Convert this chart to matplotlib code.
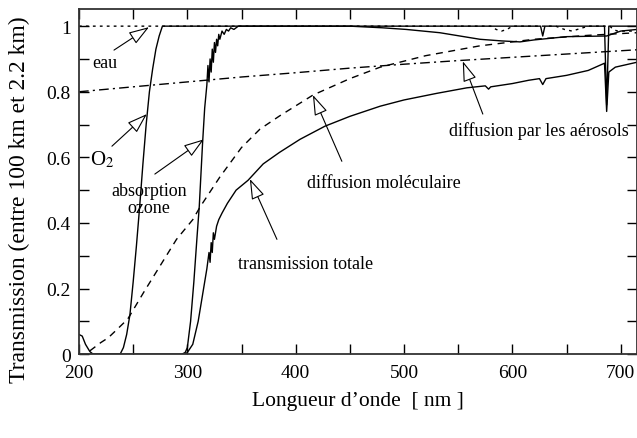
import numpy as np
import matplotlib
matplotlib.use('Agg')
import matplotlib.pyplot as plt
from matplotlib.ticker import MultipleLocator, FuncFormatter

plt.rcParams['font.family'] = ['Liberation Serif', 'DejaVu Serif']
plt.rcParams['mathtext.fontset'] = 'stix'

# absorption O2 (trait plein)
o2_x = [200, 203, 206, 210, 213, 238, 241, 244, 247, 250, 253, 256, 259, 262, 265,
        268, 271, 274, 277, 626, 628, 630, 685, 687, 689, 715]
o2_y = [0.06, 0.055, 0.03, 0.008, 0, 0, 0.02, 0.06, 0.12, 0.22, 0.33, 0.45, 0.58, 0.70, 0.80,
        0.87, 0.93, 0.97, 1.0, 1.0, 0.97, 1.0, 1.0, 0.76, 1.0, 1.0]

# absorption ozone (Huggins + Chappuis)
oz_x = [200, 295, 298, 300, 303, 306, 309, 311, 314, 316, 318, 319, 320, 321, 322, 323,
        324, 325, 326, 327, 328, 329, 330, 332, 334, 336, 338, 340, 343, 347, 450, 480,
        502, 533, 570, 590, 607, 620, 650, 687, 700, 715]
oz_y = [0, 0, 0.005, 0.02, 0.1, 0.22, 0.36, 0.45, 0.64, 0.75, 0.82, 0.88, 0.83, 0.90, 0.86, 0.93,
        0.89, 0.95, 0.92, 0.96, 0.94, 0.975, 0.96, 0.985, 0.975, 0.99, 0.985, 0.995, 0.99, 1.0, 1.0, 0.995,
        0.99, 0.98, 0.96, 0.955, 0.952, 0.958, 0.968, 0.97, 0.985, 0.99]

# transmission totale
tot_x = [298, 300, 305, 310, 314, 318, 320, 321, 322, 323, 324, 325, 327, 329, 332, 337,
         345, 356, 370, 385, 404, 427, 450, 478, 500, 530, 558, 575, 578, 580, 600, 615,
         625, 628, 631, 650, 670, 685, 687, 689, 695, 715]
tot_y = [0, 0.005, 0.03, 0.1, 0.18, 0.26, 0.31, 0.28, 0.34, 0.31, 0.37, 0.35, 0.39, 0.41, 0.43, 0.46,
         0.50, 0.53, 0.58, 0.615, 0.655, 0.695, 0.725, 0.756, 0.775, 0.795, 0.812, 0.818, 0.808, 0.815, 0.825, 0.835,
         0.84, 0.822, 0.84, 0.85, 0.865, 0.887, 0.74, 0.86, 0.875, 0.89]

# diffusion moleculaire (Rayleigh)
mol_x = [210, 220, 227, 235, 245, 260, 275, 290, 305, 312, 330, 350, 367, 385, 416,
         450, 478, 520, 570, 620, 670, 715]
mol_y = [0.01, 0.035, 0.05, 0.075, 0.107, 0.19, 0.27, 0.35, 0.41, 0.45, 0.54, 0.63, 0.686, 0.726, 0.79,
         0.84, 0.875, 0.91, 0.94, 0.96, 0.972, 0.98]

# diffusion par les aerosols
aer_x = [200, 250, 300, 350, 400, 450, 500, 550, 600, 650, 700, 715]
aer_y = [0.80, 0.815, 0.83, 0.845, 0.858, 0.872, 0.884, 0.895, 0.905, 0.915, 0.925, 0.928]

# vapeur d'eau
eau_x = [200, 580, 585, 590, 595, 600, 640, 648, 655, 662, 670, 690, 693, 697, 715]
eau_y = [1.0, 1.0, 0.99, 0.985, 0.99, 1.0, 1.0, 0.99, 0.985, 0.992, 1.0, 1.0, 0.99, 0.985, 0.985]

fig = plt.figure(figsize=(6.37, 4.39), dpi=100)
ax = fig.add_axes([0.124, 0.191, 0.876, 0.786])

lw = 1.0
ax.plot(eau_x, eau_y, color='black', lw=lw, linestyle=(0, (2, 3)))
ax.plot(aer_x, aer_y, color='black', lw=lw, linestyle=(0, (7, 3, 1.5, 3)))
ax.plot(mol_x, mol_y, color='black', lw=lw, linestyle=(0, (5, 4)))
ax.plot(o2_x, o2_y, color='black', lw=lw)
ax.plot(oz_x, oz_y, color='black', lw=lw)
ax.plot(tot_x, tot_y, color='black', lw=lw)

ax.set_xlim(200, 715)
ax.set_ylim(0, 1.052)
ax.xaxis.set_major_locator(MultipleLocator(50))
ax.yaxis.set_major_locator(MultipleLocator(0.1))
ax.xaxis.set_major_formatter(FuncFormatter(lambda v, p: '%d' % v if round(v) % 100 == 0 else ''))
ax.yaxis.set_major_formatter(FuncFormatter(lambda v, p: '%g' % round(v, 1) if round(v * 10) % 2 == 0 else ''))
ax.tick_params(direction='in', length=7, width=1, top=True, right=True, labelsize=14)
ax.tick_params(axis='x', pad=7)
ax.tick_params(axis='y', pad=6)
for s in ax.spines.values():
    s.set_linewidth(1.3)
    s.set_color('#333333')

ax.set_xlabel("Longueur d\u2019onde  [ nm ]", fontsize=15.5, labelpad=7)
ax.set_ylabel("Transmission (entre 100 km et 2.2 km)", fontsize=17, labelpad=10)
ax.yaxis.set_label_coords(-0.088, 0.45)

arr = dict(arrowstyle='-|>,head_length=0.9,head_width=0.3', fc='white', ec='black',
           lw=0.8, mutation_scale=14, shrinkA=0, shrinkB=0)
fs = 13
ax.annotate('', xy=(264.6, 0.997), xytext=(232.3, 0.927), arrowprops=arr)
ax.text(224, 0.89, 'eau', fontsize=fs, ha='center', va='center')
ax.annotate('', xy=(262.7, 0.732), xytext=(230.4, 0.634), arrowprops=arr)
ax.text(221, 0.595, 'O$_2$', fontsize=15, ha='center', va='center')
ax.annotate('', xy=(315.3, 0.655), xytext=(270, 0.549), arrowprops=arr)
ax.text(264.6, 0.473, 'absorption\nozone', fontsize=fs, ha='center', va='center', linespacing=1.0)
ax.annotate('', xy=(415.9, 0.79), xytext=(442.6, 0.588), arrowprops=arr)
ax.text(481.4, 0.524, 'diffusion mol\u00e9culaire', fontsize=fs, ha='center', va='center')
ax.annotate('', xy=(554.2, 0.893), xytext=(572.7, 0.732), arrowprops=arr)
ax.text(624.4, 0.683, 'diffusion par les a\u00e9rosols', fontsize=fs, ha='center', va='center')
ax.annotate('', xy=(357.7, 0.534), xytext=(382.7, 0.35), arrowprops=arr)
ax.text(409.4, 0.277, 'transmission totale', fontsize=fs, ha='center', va='center')

fig.savefig('out.png', dpi=100)
